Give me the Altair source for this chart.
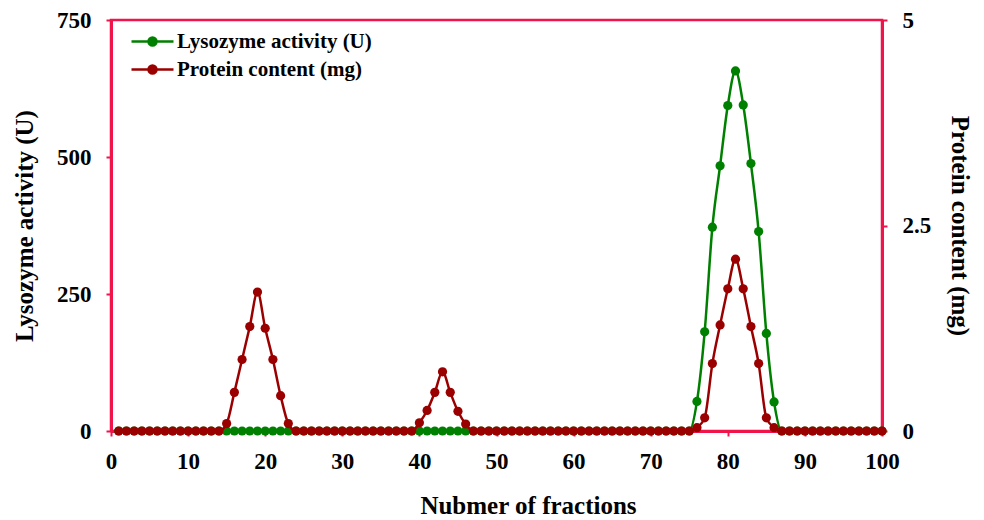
import altair as alt
import pandas as pd

fractions = list(range(1, 101))

# Lysozyme activity (U): non-zero only at fractions 76-86
lysozyme = [0.0] * 100
lyso_peak = {76: 54, 77: 181, 78: 372, 79: 484, 80: 594, 81: 657,
             82: 595, 83: 488, 84: 364, 85: 178, 86: 53}
for k, v in lyso_peak.items():
    lysozyme[k - 1] = v

# Protein content (mg)
protein = [0.0] * 100
prot_peaks = {15: 0.09, 16: 0.47, 17: 0.87, 18: 1.27, 19: 1.69, 20: 1.25,
              21: 0.87, 22: 0.43, 23: 0.09,
              40: 0.10, 41: 0.25, 42: 0.47, 43: 0.72, 44: 0.47, 45: 0.24, 46: 0.085,
              76: 0.04, 77: 0.16, 78: 0.82, 79: 1.29, 80: 1.73, 81: 2.09,
              82: 1.73, 83: 1.27, 84: 0.82, 85: 0.16, 86: 0.04}
for k, v in prot_peaks.items():
    protein[k - 1] = v

series_names = ["Lysozyme activity (U)", "Protein content (mg)"]
series_colors = ["#008000", "#9B0000"]

df = pd.DataFrame({"fraction": fractions, "lysozyme": lysozyme, "protein": protein})

AXIS_COLOR = "#F0144B"
FONT = "Liberation Serif"

color = alt.Color(
    "series:N",
    scale=alt.Scale(domain=series_names, range=series_colors),
    legend=alt.Legend(
        title=None, orient="none", legendX=30, legendY=10,
        labelFont=FONT, labelFontSize=21, labelFontWeight="bold", labelColor="black",
        labelLimit=400,
        symbolType="M-2.1,0 L2.1,0 M0.4,0 A0.4,0.4 0 1,1 -0.4,0 A0.4,0.4 0 1,1 0.4,0 Z",
        symbolSize=400, symbolStrokeWidth=2.5, rowPadding=6, labelOffset=13,
    ),
)

x = alt.X("fraction:Q", scale=alt.Scale(domain=[0, 100], nice=False),
          axis=alt.Axis(values=list(range(0, 101, 10)), title="Nubmer of fractions",
                        titlePadding=20, titleX=417, labelFlush=False))

base = alt.Chart(df).encode(x=x)

lyso = base.transform_calculate(series="'Lysozyme activity (U)'").mark_line(
    strokeWidth=2.5, interpolate="monotone",
    point=alt.OverlayMarkDef(filled=True, size=85, opacity=1)
).encode(
    y=alt.Y("lysozyme:Q", scale=alt.Scale(domain=[0, 750], nice=False),
            axis=alt.Axis(values=[0, 250, 500, 750], title="Lysozyme activity (U)",
                          orient="left", titlePadding=19)),
    color=color,
)

prot = base.transform_calculate(series="'Protein content (mg)'").mark_line(
    strokeWidth=2.5, interpolate="monotone",
    point=alt.OverlayMarkDef(filled=True, size=85, opacity=1)
).encode(
    y=alt.Y("protein:Q", scale=alt.Scale(domain=[0, 5], nice=False),
            axis=alt.Axis(values=[0, 2.5, 5], labelExpr="toString(datum.value)",
                          title="Protein content (mg)",
                          orient="right", titlePadding=16)),
    color=color,
)

chart = alt.layer(lyso, prot).resolve_scale(y="independent").properties(
    width=771, height=411,
    autosize=alt.AutoSizeParams(type="none"),
    padding={"left": 103, "top": 12, "right": 94, "bottom": 88},
).configure_view(
    stroke=AXIS_COLOR, strokeWidth=2.5
).configure_axis(
    grid=False,
    domainColor=AXIS_COLOR, domainWidth=3,
    tickColor=AXIS_COLOR, tickSize=5, tickWidth=2,
    labelFont=FONT, labelFontSize=23, labelFontWeight="bold", labelColor="black",
    labelPadding=14,
    titleFont=FONT, titleFontSize=25, titleFontWeight="bold", titleColor="black",
).configure_axisY(labelPadding=15)

chart.save("out.html", embed_options={"renderer": "svg", "actions": False})
